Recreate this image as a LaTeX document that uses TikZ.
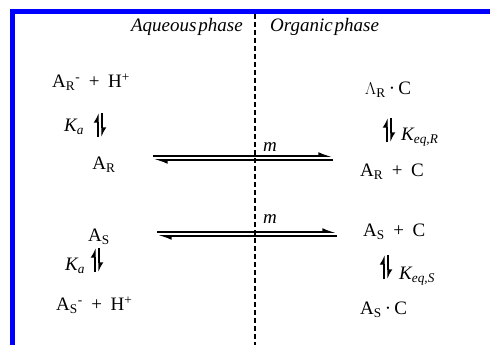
\documentclass[tikz,border=0pt]{standalone}
\usepackage{fontspec}
\setmainfont{Liberation Serif}
\usepackage{tikz}
\usetikzlibrary{positioning, arrows.meta}
\definecolor{cFrame}{HTML}{0000FF}
\definecolor{cText} {HTML}{000000}
\tikzset{
  species/.style={font=\fontsize{19}{21}\selectfont, text=cText, inner sep=1pt},
  kconst/.style={font=\fontsize{19}{21}\selectfont\itshape, text=cText, inner sep=1pt},
  phase/.style={font=\fontsize{19}{21}\selectfont\itshape, text=cText, inner sep=1pt},
  harp/.style={line width=1.2pt, -{Latex[left, length=8pt, width=9pt]}},
  transfer/.style={line width=1.8pt, -{Latex[left, length=11pt, width=8pt]}},
}
\newcommand{\spA}[1]{A\textsubscript{#1}}
\newcommand{\plus}{\hspace{0.45em}+\hspace{0.45em}}
\begin{document}
\begin{tikzpicture}[x=1pt, y=-1pt]
  \useasboundingbox (0,0) rectangle (490,345);
  % frame and interface
  \draw[cFrame, line width=5pt, miter limit=10] (12.5,345) -- (12.5,11.5) -- (490,11.5);
  \coordinate (ifTop) at (255,14);
  \coordinate (ifBot) at (255,345);
  \draw[line width=1.4pt, dash pattern=on 5pt off 3pt] (ifTop) -- (ifBot);
  % phase labels
  \node[phase, anchor=east] (aqLbl) at (244,27) {Aqueous\hspace{0.1em}phase};
  \node[phase, anchor=west] (orgLbl) at (269,27) {Organic\hspace{0.1em}phase};
  % R enantiomer, aqueous
  \node[species, anchor=west] (aRion) at (51,82) {\spA{R}\textsuperscript{-}\plus H\textsuperscript{+}};
  \node[species] (aR) at (104,165) {\spA{R}};
  \coordinate (hRaT) at (100,113);
  \coordinate (hRaB) at (100,137);
  \draw[harp] ([xshift=-2pt]hRaB) -- ([xshift=-2pt]hRaT);
  \draw[harp] ([xshift=2pt]hRaT) -- ([xshift=2pt]hRaB);
  \node[kconst] (kaR) at (74,127) {K\textsubscript{a}};
  % R enantiomer, organic
  \node[species, anchor=west] (oRC) at (364,90) {$\Lambda$\textsubscript{R}\,·\,C};
  \node[species, anchor=west] (oR) at (359,172) {\spA{R}\plus C};
  \coordinate (hRoT) at (389,118);
  \coordinate (hRoB) at (389,142);
  \draw[harp] ([xshift=-2pt]hRoB) -- ([xshift=-2pt]hRoT);
  \draw[harp] ([xshift=2pt]hRoT) -- ([xshift=2pt]hRoB);
  \node[kconst, anchor=west] (keqR) at (400,137) {K\textsubscript{eq,R}};
  % transfer R
  \coordinate (tRaq) at (153,156);
  \coordinate (tRorg) at (333,156);
  \draw[transfer] (tRaq) -- (tRorg);
  \draw[transfer] ([yshift=-4pt]tRorg) -- ([yshift=-4pt]tRaq);
  \node[kconst] (mR) at (270,147) {m};
  % S enantiomer, aqueous
  \node[species] (aS) at (99,237) {\spA{S}};
  \node[species, anchor=west] (aSion) at (55,305) {\spA{S}\textsuperscript{-}\plus H\textsuperscript{+}};
  \coordinate (hSaT) at (97,248);
  \coordinate (hSaB) at (97,272);
  \draw[harp] ([xshift=-2pt]hSaB) -- ([xshift=-2pt]hSaT);
  \draw[harp] ([xshift=2pt]hSaT) -- ([xshift=2pt]hSaB);
  \node[kconst] (kaS) at (75,266) {K\textsubscript{a}};
  % S enantiomer, organic
  \node[species, anchor=west] (oS) at (362,232) {\spA{S}\plus C};
  \node[species, anchor=west] (oSC) at (359,310) {\spA{S}\,·\,C};
  \coordinate (hSoT) at (386,255);
  \coordinate (hSoB) at (386,279);
  \draw[harp] ([xshift=-2pt]hSoB) -- ([xshift=-2pt]hSoT);
  \draw[harp] ([xshift=2pt]hSoT) -- ([xshift=2pt]hSoB);
  \node[kconst, anchor=west] (keqS) at (398,276) {K\textsubscript{eq,S}};
  % transfer S
  \coordinate (tSaq) at (157,232);
  \coordinate (tSorg) at (337,232);
  \draw[transfer] (tSaq) -- (tSorg);
  \draw[transfer] ([yshift=-4pt]tSorg) -- ([yshift=-4pt]tSaq);
  \node[kconst] (mS) at (270,219) {m};
\end{tikzpicture}
\end{document}
